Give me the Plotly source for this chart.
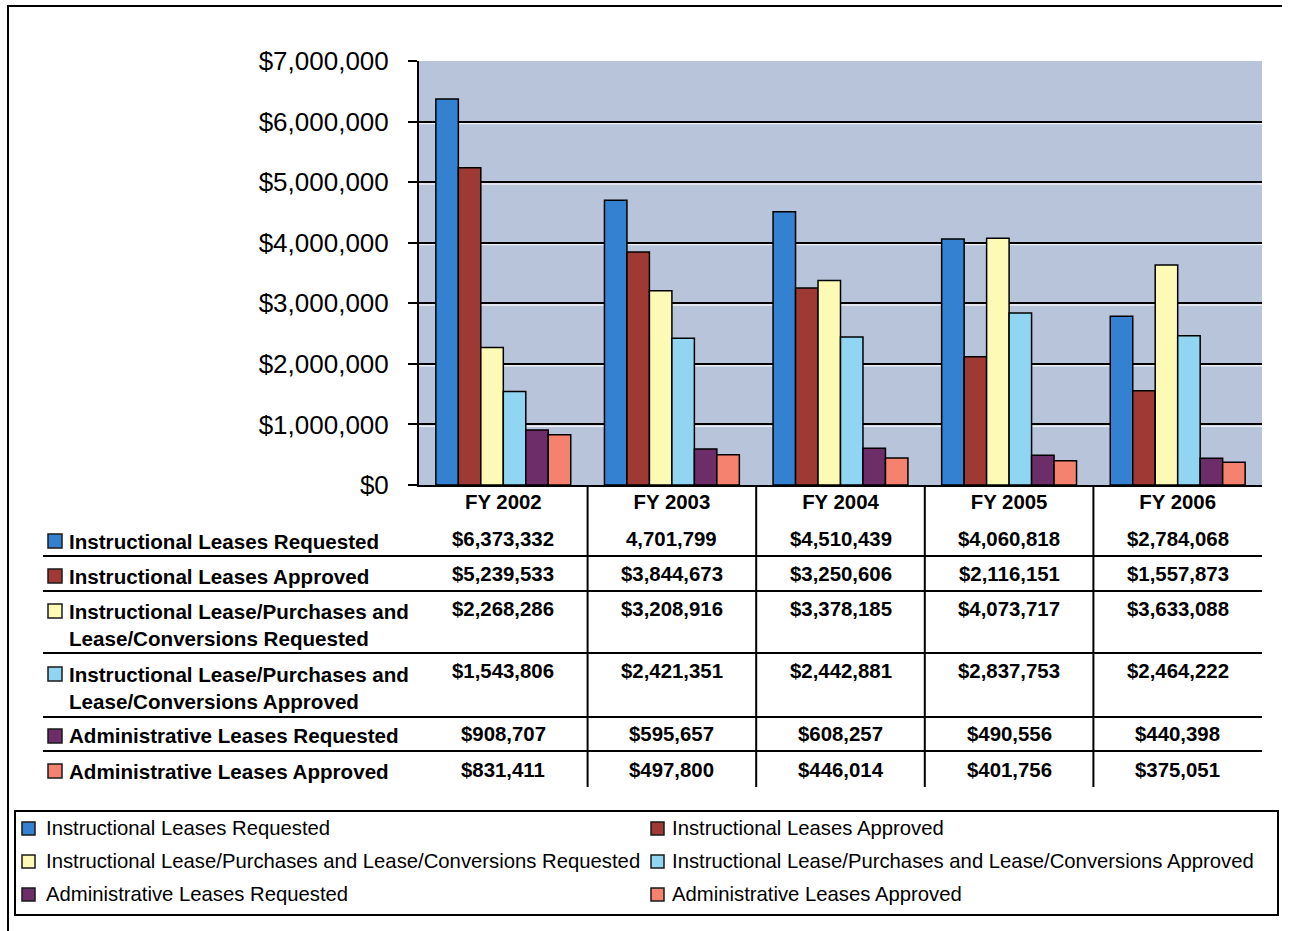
import plotly.graph_objects as go

# ---- data -------------------------------------------------------------
years = ["FY 2002", "FY 2003", "FY 2004", "FY 2005", "FY 2006"]

series_names = [
    "Instructional Leases Requested",
    "Instructional Leases Approved",
    "Instructional Lease/Purchases and Lease/Conversions Requested",
    "Instructional Lease/Purchases and Lease/Conversions Approved",
    "Administrative Leases Requested",
    "Administrative Leases Approved",
]

# table row labels (wrapped the way the table prints them)
row_labels = [
    "Instructional Leases Requested",
    "Instructional Leases Approved",
    "Instructional Lease/Purchases and<br>Lease/Conversions Requested",
    "Instructional Lease/Purchases and<br>Lease/Conversions Approved",
    "Administrative Leases Requested",
    "Administrative Leases Approved",
]

inst_requested = [6373332, 4701799, 4510439, 4060818, 2784068]
inst_approved = [5239533, 3844673, 3250606, 2116151, 1557873]
lp_requested = [2268286, 3208916, 3378185, 4073717, 3633088]
lp_approved = [1543806, 2421351, 2442881, 2837753, 2464222]
admin_requested = [908707, 595657, 608257, 490556, 440398]
admin_approved = [831411, 497800, 446014, 401756, 375051]

series_values = [inst_requested, inst_approved, lp_requested,
                 lp_approved, admin_requested, admin_approved]

# cells printed without the currency sign in the table (row, column)
plain_cells = {(0, 1)}

colors = ["#3481d2", "#9e3934", "#fdfab6", "#90d6f2", "#6d2d69", "#f5816f"]

# ---- page geometry (pixels) -------------------------------------------
W, H = 1292, 931
L, R, T, B = 419, 1262, 61, 485


def fx(px):
    return (px - L) / (R - L)


def fy(py):
    return (B - py) / (B - T)


FONT = "Arial, 'Liberation Sans', sans-serif"

fig = go.Figure()
for name, vals, col in zip(series_names, series_values, colors):
    fig.add_trace(go.Bar(
        x=years, y=vals, name=name,
        marker=dict(color=col, line=dict(color="black", width=1.5)),
        showlegend=False,
    ))

shapes = []
annotations = []

# outer frame (left and top edges)
shapes.append(dict(type="path", xref="paper", yref="paper",
                   path=f"M {fx(8)} {fy(940)} L {fx(8)} {fy(6)} L {fx(1282)} {fy(6)}",
                   line=dict(color="black", width=2)))

# white highlight under each gridline
for k in range(1, 7):
    shapes.append(dict(type="line", xref="paper", yref="y",
                       x0=0, x1=1, y0=k * 1e6 - 30000, y1=k * 1e6 - 30000,
                       line=dict(color="rgba(255,255,255,0.75)", width=1.5),
                       layer="below"))

# table: vertical separators between fiscal years
for i in range(len(years) - 1):
    shapes.append(dict(type="line", xref="x", yref="paper",
                       x0=i + 0.5, x1=i + 0.5, y0=fy(485), y1=fy(787),
                       line=dict(color="black", width=2)))

# table: horizontal rules between rows
for py in [556, 591, 653, 717, 751]:
    shapes.append(dict(type="line", xref="paper", yref="paper",
                       x0=fx(43), x1=1, y0=fy(py), y1=fy(py),
                       line=dict(color="black", width=2)))

label_y = [541, 576, 624.5, 687.5, 736, 771]
swatch_y = [541, 576, 611, 674, 736, 771]
value_y = [539, 574, 609, 671, 734, 770]

for r, (lab, vals, col) in enumerate(zip(row_labels, series_values, colors)):
    shapes.append(dict(type="rect", xref="paper", yref="paper",
                       x0=fx(48), x1=fx(62),
                       y0=fy(swatch_y[r] + 7), y1=fy(swatch_y[r] - 7),
                       fillcolor=col, line=dict(color="#1a1a1a", width=1.5)))
    annotations.append(dict(xref="paper", yref="paper", x=fx(67), y=fy(label_y[r]),
                            xanchor="left", yanchor="middle", align="left",
                            text=lab, showarrow=False,
                            font=dict(family=FONT, size=20.6, color="black", weight="bold")))
    for c, v in enumerate(vals):
        txt = f"{v:,}" if (r, c) in plain_cells else f"${v:,}"
        annotations.append(dict(xref="x", yref="paper", x=years[c], y=fy(value_y[r]),
                                xanchor="center", yanchor="middle",
                                text=txt, showarrow=False,
                                font=dict(family=FONT, size=20.4, color="black", weight="bold")))

# legend box
shapes.append(dict(type="rect", xref="paper", yref="paper",
                   x0=fx(15), x1=fx(1278), y0=fy(915), y1=fy(811),
                   line=dict(color="black", width=2), fillcolor="rgba(0,0,0,0)"))
leg_cols = [(22, 46), (651, 672)]
leg_rows = [828, 861, 894]
for i, (name, col) in enumerate(zip(series_names, colors)):
    sx, tx = leg_cols[i % 2]
    yy = leg_rows[i // 2]
    shapes.append(dict(type="rect", xref="paper", yref="paper",
                       x0=fx(sx), x1=fx(sx + 13), y0=fy(yy + 7), y1=fy(yy - 6),
                       fillcolor=col, line=dict(color="#1a1a1a", width=1.5)))
    annotations.append(dict(xref="paper", yref="paper", x=fx(tx - 2), y=fy(yy),
                            xanchor="left", yanchor="middle", text=name,
                            showarrow=False,
                            font=dict(family=FONT, size=20.3, color="black")))

fig.update_layout(
    width=W, height=H,
    margin=dict(l=L, r=W - R, t=T, b=H - B, pad=0),
    paper_bgcolor="white",
    plot_bgcolor="#b8c4da",
    barmode="group", bargap=0.2, bargroupgap=0,
    font=dict(family=FONT, color="black"),
    shapes=shapes, annotations=annotations,
    showlegend=False,
)
fig.update_xaxes(
    showline=True, linecolor="black", linewidth=2,
    ticks="", showgrid=False,
    tickfont=dict(family=FONT, size=20.4, color="black", weight="bold"),
    ticklabelstandoff=-2,
)
fig.update_yaxes(
    range=[0, 7000000], dtick=1000000, tickformat="$,.0f",
    showline=True, linecolor="black", linewidth=2,
    ticks="outside", ticklen=9, tickwidth=2, tickcolor="black",
    showgrid=True, gridcolor="black", gridwidth=2, zeroline=False,
    tickfont=dict(family=FONT, size=26, color="black"),
    ticklabelstandoff=14,
)

fig.write_html("out.html")
